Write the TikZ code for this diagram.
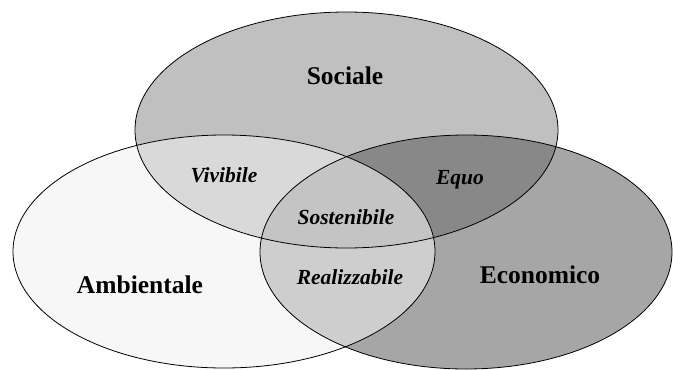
\documentclass[tikz,border=0pt]{standalone}
\usepackage{fontspec}
\setmainfont{Liberation Serif}
\usepackage{xcolor}
\usepackage{tikz}
\usetikzlibrary{positioning}
\definecolor{socGray}{HTML}{C0C0C0}
\definecolor{ambGray}{HTML}{F7F7F7}
\definecolor{ecoGray}{HTML}{A6A6A6}
\definecolor{vivGray}{HTML}{D9D9D9}
\definecolor{equGray}{HTML}{888888}
\definecolor{reaGray}{HTML}{CECECE}
\definecolor{sosGray}{HTML}{C4C4C4}
% the three sets
\newcommand{\socSet}{(346.5,130) ellipse [x radius=211.5pt, y radius=118pt]}
\newcommand{\ambSet}{(224,251.5) ellipse [x radius=211pt, y radius=116.5pt]}
\newcommand{\ecoSet}{(466,252) ellipse [x radius=206pt, y radius=117pt]}

\begin{document}
\begin{tikzpicture}[
        x=1pt, y=-1pt,
        setlbl/.style={font=\fontsize{25.5}{28}\selectfont\bfseries},
        cutlbl/.style={font=\fontsize{21.5}{24}\selectfont\bfseries\itshape},
        rim/.style={draw=black, line width=0.8pt}
    ]
    \useasboundingbox (0,0) rectangle (673,370);

    % single sets
    \fill[socGray] \socSet;
    \fill[ambGray] \ambSet;
    \fill[ecoGray] \ecoSet;

    % pairwise overlaps
    \begin{scope}
        \clip \socSet;
        \fill[vivGray] \ambSet;
        \fill[equGray] \ecoSet;
    \end{scope}
    \begin{scope}
        \clip \ambSet;
        \fill[reaGray] \ecoSet;
    \end{scope}
    % all three
    \begin{scope}
        \clip \socSet;
        \clip \ambSet;
        \fill[sosGray] \ecoSet;
    \end{scope}

    \draw[rim] \socSet;
    \draw[rim] \ambSet;
    \draw[rim] \ecoSet;

    \node[setlbl] (soc) at (345,76)  {Sociale};
    \node[setlbl] (amb) at (140,285) {Ambientale};
    \node[setlbl] (eco) at (540,275) {Economico};

    \node[cutlbl] (viv) at (224,175) {Vivibile};
    \node[cutlbl] (equ) at (460,180) {Equo};
    \node[cutlbl] (sos) at (346,217) {Sostenibile};
    \node[cutlbl] (rea) at (350,277) {Realizzabile};
\end{tikzpicture}
\end{document}
